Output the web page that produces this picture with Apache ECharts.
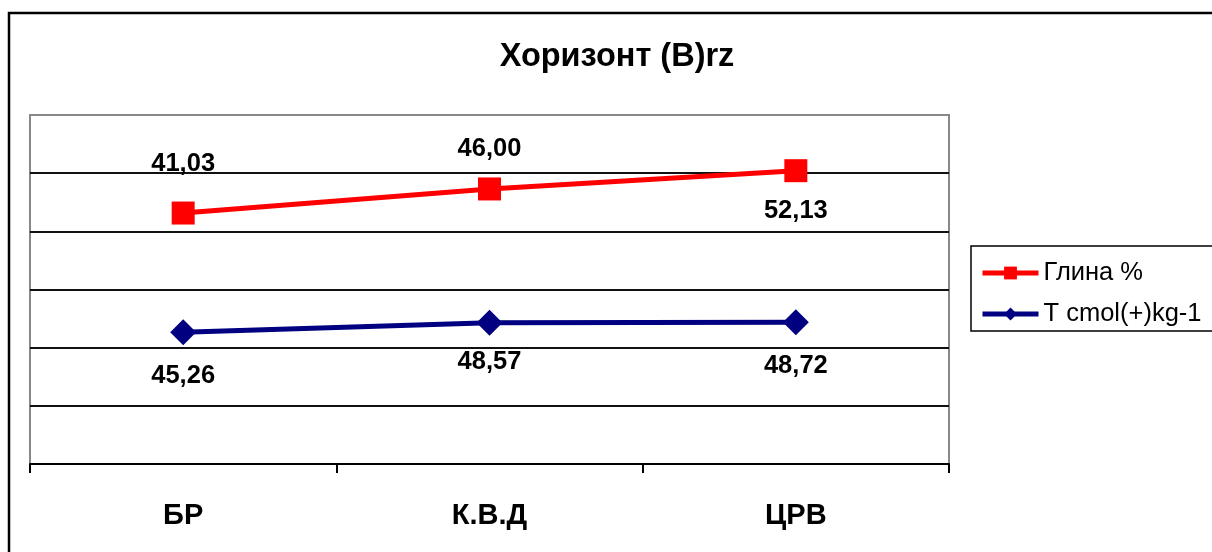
<!DOCTYPE html>
<html lang="ru">
<head>
    <meta charset="UTF-8">
    <title>Хоризонт (B)rz</title>
    <script src="https://cdn.jsdelivr.net/npm/echarts@6/dist/echarts.min.js"></script>
    <style>
        html, body { margin: 0; padding: 0; background: #fff; }
        #container { width: 1212px; height: 552px; }
    </style>
</head>
<body>
<div id="container"></div>
<script type="text/javascript">
// data
var categories = ['БР', 'К.В.Д', 'ЦРВ'];
var glina = [41.03, 46.00, 52.13];
var tCmol = [45.26, 48.57, 48.72];

// label vertical offsets (px) from each marker
var glinaLabelDy = [-49, -40, 40];
var tLabelDy = [44, 39, 44];

var FONT = '"Liberation Sans", Arial, sans-serif';

function fmt(p) {
    return p.value.toFixed(2).replace('.', ',');
}

function withLabels(values, dys) {
    return values.map(function (v, i) {
        return { value: v, label: { offset: [0, dys[i]] } };
    });
}

var labelOpt = {
    show: true,
    position: 'inside',
    formatter: fmt,
    color: '#000',
    fontFamily: FONT,
    fontWeight: 'bold',
    fontSize: 25.5
};

var dom = document.getElementById('container');
var myChart = echarts.init(dom, null, { renderer: 'canvas' });

var option = {
    animation: false,
    backgroundColor: '#fff',
    title: {
        text: 'Хоризонт (B)rz',
        left: 612,
        textAlign: 'center',
        top: 36,
        textStyle: { fontFamily: FONT, fontWeight: 'bold', fontSize: 32.5, color: '#000' }
    },
    legend: {
        data: ['Глина %', 'T cmol(+)kg-1'],
        orient: 'vertical',
        left: 975,
        top: 255,
        itemWidth: 56,
        itemHeight: 16,
        itemGap: 15,
        lineStyle: { width: 5 },
        textStyle: { fontFamily: FONT, fontSize: 25.5, color: '#000' }
    },
    graphic: [
        {
            type: 'rect',
            shape: { x: 9, y: 13, width: 1260, height: 600 },
            style: { fill: 'none', stroke: '#000', lineWidth: 2.5 },
            silent: true
        },
        {
            type: 'rect',
            shape: { x: 971, y: 246, width: 260, height: 85 },
            style: { fill: 'none', stroke: '#000', lineWidth: 1.5 },
            silent: true
        }
    ],
    grid: {
        left: 30,
        top: 115,
        width: 919,
        height: 349,
        show: true,
        borderColor: '#888',
        borderWidth: 2,
        containLabel: false
    },
    xAxis: {
        type: 'category',
        data: categories,
        boundaryGap: true,
        axisLine: { lineStyle: { color: '#000', width: 2 } },
        axisTick: { show: true, inside: false, length: 9, lineStyle: { color: '#000', width: 2 } },
        axisLabel: {
            margin: 37,
            color: '#000',
            fontFamily: FONT,
            fontWeight: 'bold',
            fontSize: 29
        }
    },
    yAxis: {
        type: 'value',
        min: 0,
        max: 120,
        interval: 20,
        axisLine: { show: false },
        axisTick: { show: false },
        axisLabel: { show: false },
        splitLine: {
            lineStyle: {
                color: ['#000', '#111', '#111', '#111', '#111', '#111', '#888'],
                width: 2
            }
        }
    },
    series: [
        {
            name: 'T cmol(+)kg-1',
            type: 'line',
            stack: 'total',
            data: withLabels(tCmol, tLabelDy),
            color: '#000080',
            symbol: 'diamond',
            symbolSize: 26,
            lineStyle: { width: 5, color: '#000080' },
            itemStyle: { color: '#000080' },
            label: labelOpt,
            z: 3
        },
        {
            name: 'Глина %',
            type: 'line',
            stack: 'total',
            data: withLabels(glina, glinaLabelDy),
            color: '#ff0000',
            symbol: 'rect',
            symbolSize: 23,
            lineStyle: { width: 5, color: '#ff0000' },
            itemStyle: { color: '#ff0000' },
            label: labelOpt,
            z: 3
        }
    ]
};

myChart.setOption(option, true);
</script>
</body>
</html>
